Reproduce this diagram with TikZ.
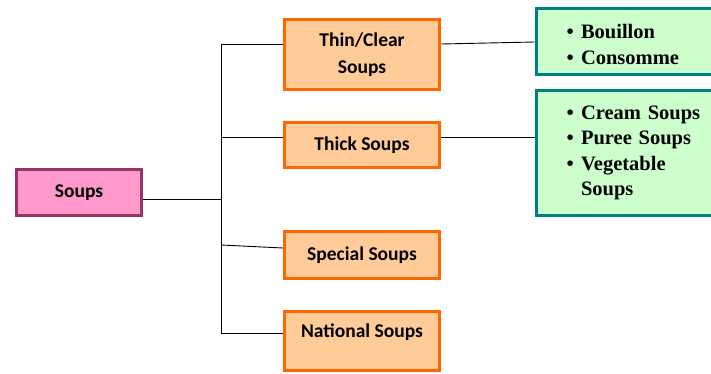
\documentclass[tikz,border=0pt]{standalone}
\usepackage{fontspec}
\setmainfont{Liberation Serif}
\newfontfamily\calfont{Carlito}
\usetikzlibrary{calc}

\definecolor{soupfill}{HTML}{FF99CC}
\definecolor{soupline}{HTML}{993366}
\definecolor{typefill}{HTML}{FFCC99}
\definecolor{typeline}{HTML}{FF6600}
\definecolor{listfill}{HTML}{CCFFCC}
\definecolor{listline}{HTML}{008080}

\newcommand{\typefont}{\calfont\bfseries\fontsize{19.5}{27}\selectfont}
\newcommand{\listfont}{\bfseries\fontsize{20.5}{25.5}\selectfont}
\newcommand{\itm}{\makebox[14.5pt][l]{\textbullet}}

\begin{document}
\begin{tikzpicture}[x=1pt, y=-1pt,
    mainbox/.style={draw=soupline, fill=soupfill, line width=3pt, inner sep=0pt,
        minimum width=125pt, minimum height=46pt, font=\typefont},
    typebox/.style={draw=typeline, fill=typefill, line width=3pt, inner sep=0pt,
        minimum width=155pt, align=center, font=\typefont},
    listbox/.style={draw=listline, fill=listfill, line width=3pt, anchor=west,
        inner ysep=0pt, inner xsep=30.5pt, text width=150pt, align=left, font=\listfont},
    link/.style={line width=0.9pt}]
    \useasboundingbox (0,0) rectangle (711,373);

    % Main box
    \node[mainbox] (soups) at (79,192.5) {Soups};

    % Kinds of soups
    \node[typebox, minimum height=70pt] (thin) at (362,54.5) {Thin/Clear\\Soups};
    \node[typebox, minimum height=45pt] (thick) at (362,145) {Thick Soups};
    \node[typebox, minimum height=47pt] (special) at (362,255) {Special Soups};
    \node[typebox, minimum height=59pt, text height=13pt, text depth=21pt] (national) at (362,341) {National Soups};

    % Examples
    \node[listbox, minimum height=66pt, text height=20pt] (clear) at (534.5,41.5) {\itm Bouillon\\\itm Consomme};
    \node[listbox, minimum height=125pt] (thicklist) at (534.5,153) {\itm Cream Soups\\\itm Puree Soups\\\itm Vegetable\\\hspace*{14.5pt}Soups};

    % Trunk of the tree
    \coordinate (t1) at (221,44);
    \coordinate (t2) at (221,137);
    \coordinate (t0) at (221,199.5);
    \coordinate (t3) at (221,245);
    \coordinate (t4) at (221,333);
    \draw[link] (t1) -- (t4);
    \draw[link] (soups.east |- t0) -- (t0);

    % Branches
    \draw[link] (t1) -- (t1 -| thin.west);
    \draw[link] (t2) -- (t2 -| thick.west);
    \draw[link] (t3) -- ([yshift=7pt]special.west);
    \draw[link] (t4) -- (t4 -| national.west);
    \draw[link] (thin.east |- t1) -- ([yshift=-0.5pt]clear.west);
    \draw[link] (thick.east |- t2) -- (thicklist.west |- t2);
\end{tikzpicture}
\end{document}
